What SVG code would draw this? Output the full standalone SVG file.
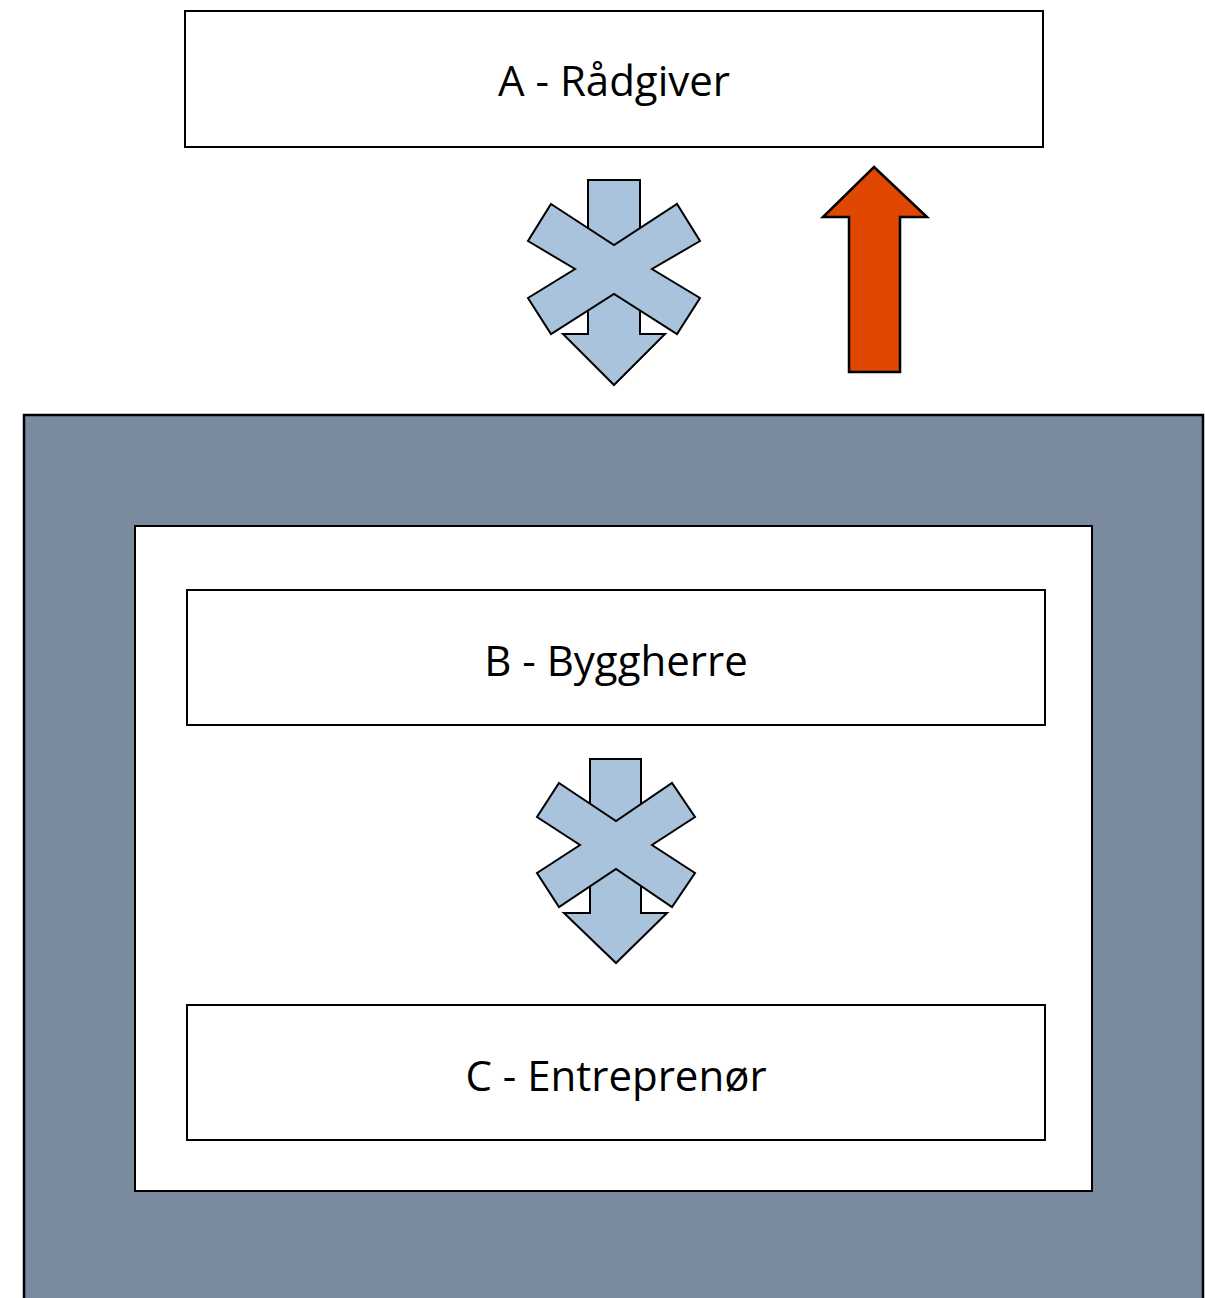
<svg xmlns="http://www.w3.org/2000/svg" width="1205" height="1298" viewBox="0 0 1205 1298">
<style>
.box{fill:#fff;stroke:#000;stroke-width:2}
.lbl{font-family:"Open Sans","Noto Sans","Liberation Sans",sans-serif;font-size:42px;fill:#000;text-anchor:middle}
.blue{fill:#A9C3DD;stroke:#000;stroke-width:2;stroke-linejoin:miter}
.red{fill:#E04700;stroke:#000;stroke-width:2.5}
</style>
<rect width="1205" height="1298" fill="#fff"/>
<g id="outer"><rect x="24" y="415" width="1179" height="900" fill="#7A8B9F" stroke="#000" stroke-width="2.5"/></g>
<g id="inner"><rect class="box" x="135" y="526" width="957" height="665"/></g>
<g id="nodeA"><rect class="box" x="185" y="11" width="858" height="136"/><text class="lbl" x="614" y="96">A - Rådgiver</text></g>
<g id="nodeB"><rect class="box" x="187" y="590" width="858" height="135"/><text class="lbl" x="616" y="676">B - Byggherre</text></g>
<g id="nodeC"><rect class="box" x="187" y="1005" width="858" height="135"/><text class="lbl" x="616" y="1091">C - Entreprenør</text></g>
<g id="connectors">
<g id="cross1">
<polygon class="blue" points="588,180 640,180 640,334 665,334 614,385 563,334 588,334"/>
<polygon class="blue" points="551,204 614,245 677,204 700,241 652,269 700,298 677,334 614,294 551,334 528,298 575,269 528,241"/>
</g>
<g id="cross2">
<polygon class="blue" points="590,759 641,759 641,913 667,913 616,963 564,913 590,913"/>
<polygon class="blue" points="559,783 616,821 672,783 695,817 652,845 695,873 672,907 616,869 559,907 537,873 580,845 537,817"/>
</g>
<g id="upArrow">
<polygon class="red" points="874,167 927,217 900,217 900,372 849,372 849,217 823,217"/>
</g>
</g>
</svg>
